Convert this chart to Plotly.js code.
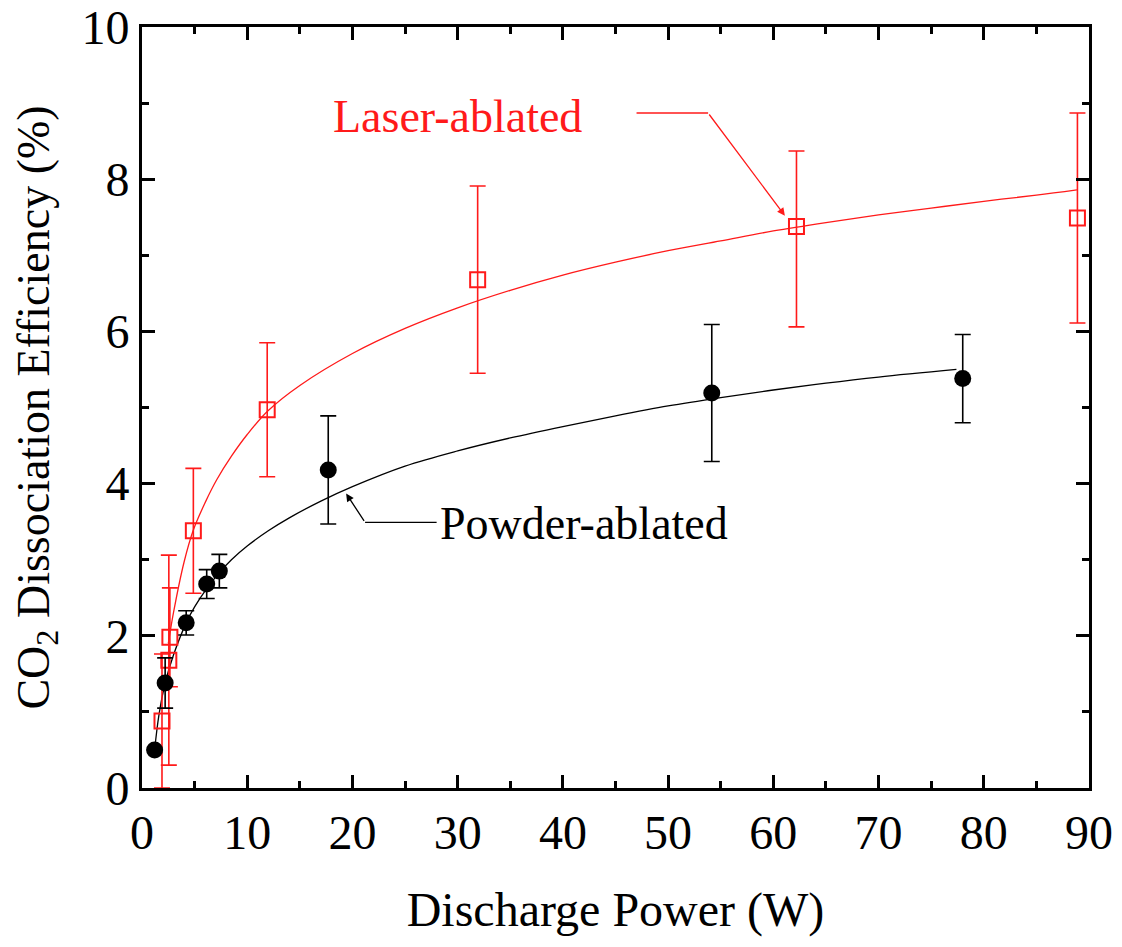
<!DOCTYPE html>
<html>
<head>
<meta charset="utf-8">
<script src="https://cdn.plot.ly/plotly-3.0.1.min.js"></script>
<style>html,body{margin:0;padding:0;background:#fff;}#chart{width:1122px;height:947px;}</style>
</head>
<body>
<div id="chart"></div>
<script>
// Powder-ablated (black filled circles)
const powderPower = [1.2, 2.2, 4.2, 6.15, 7.35, 17.7, 54.15, 78.0];
const powderEff   = [0.5, 1.38, 2.17, 2.68, 2.85, 4.18, 5.19, 5.38];
const powderErr   = [0.0, 0.33, 0.16, 0.19, 0.22, 0.71, 0.90, 0.58];

// Laser-ablated (red open squares)
const laserPower = [1.9, 2.55, 2.65, 4.88, 11.9, 31.9, 62.2, 88.9];
const laserEff   = [0.88, 1.68, 1.98, 3.38, 4.97, 6.68, 7.38, 7.49];
const laserErrPlus  = [0.88, 1.38, 0.65, 0.82, 0.88, 1.23, 0.99, 1.38];
const laserErrMinus = [0.88, 1.38, 0.65, 0.82, 0.88, 1.23, 1.32, 1.38];

// Fit curves
const powderFitX = [1.2, 1.6, 2.2, 3, 4.2, 5, 6.15, 7.35, 8.5, 10, 12, 14, 17, 20, 25, 30, 35, 40, 45, 50, 55, 60, 65, 70, 77.4];
const powderFitY = [0.5, 0.95, 1.38, 1.75, 2.17, 2.38, 2.62, 2.83, 3.0, 3.18, 3.38, 3.55, 3.77, 3.96, 4.23, 4.43, 4.6, 4.75, 4.89, 5.02, 5.13, 5.23, 5.32, 5.4, 5.5];
const laserFitX = [2.5, 3, 4, 4.88, 6, 7.1, 8.5, 10, 12, 15, 20, 25, 30, 35, 40, 45, 50, 55, 60, 65, 70, 75, 80, 85, 88.85];
const laserFitY = [1.9, 2.31, 2.97, 3.39, 3.75, 4.05, 4.36, 4.645, 4.96, 5.29, 5.71, 6.04, 6.31, 6.54, 6.74, 6.91, 7.06, 7.19, 7.32, 7.43, 7.53, 7.62, 7.71, 7.79, 7.86];

// Tick values
const xTicks = [0, 10, 20, 30, 40, 50, 60, 70, 80, 90];
const yTicks = [0, 2, 4, 6, 8, 10];

const FONT = 'Liberation Serif, Times New Roman, serif';
const RED = '#ff1a1a';

const traces = [
  {x: laserFitX, y: laserFitY, mode: 'lines', line: {color: RED, width: 1.3, shape: 'spline', smoothing: 1}, hoverinfo: 'skip', showlegend: false},
  {x: powderFitX, y: powderFitY, mode: 'lines', line: {color: '#000', width: 1.3, shape: 'spline', smoothing: 1}, hoverinfo: 'skip', showlegend: false},
  {x: laserPower, y: laserEff, mode: 'markers', showlegend: false,
   marker: {symbol: 'square-open', size: 15, color: RED, line: {width: 2, color: RED}},
   error_y: {type: 'data', symmetric: false, array: laserErrPlus, arrayminus: laserErrMinus, color: RED, thickness: 1.6, width: 8}},
  {x: powderPower, y: powderEff, mode: 'markers', showlegend: false,
   marker: {symbol: 'circle', size: 17, color: '#000'},
   error_y: {type: 'data', array: powderErr, color: '#000', thickness: 1.6, width: 8}}
];

const axisCommon = {
  showgrid: false, zeroline: false, showline: true, mirror: 'allticks',
  linecolor: '#000', linewidth: 3, ticks: 'inside', ticklen: 13, tickwidth: 3, tickcolor: '#000',
  tickfont: {family: FONT, size: 48, color: '#000'},
  minor: {ticks: 'inside', ticklen: 7, tickwidth: 3, tickcolor: '#000'}
};

const layout = {
  width: 1122, height: 947,
  margin: {l: 142, r: 33, t: 27, b: 159},
  paper_bgcolor: '#fff', plot_bgcolor: '#fff',
  font: {family: FONT, color: '#000'},
  xaxis: Object.assign({}, axisCommon, {
    range: [0, 90], tickvals: xTicks, ticktext: xTicks.map(String),
    minor: Object.assign({}, axisCommon.minor, {dtick: 5, tick0: 0}),
    title: {text: 'Discharge Power (W)', font: {family: FONT, size: 48, color: '#000'}, standoff: 35}
  }),
  yaxis: Object.assign({}, axisCommon, {
    range: [0, 10], tickvals: yTicks, ticktext: yTicks.map(String),
    minor: Object.assign({}, axisCommon.minor, {dtick: 1, tick0: 0}),
    title: {text: 'CO<sub>2</sub> Dissociation Efficiency (%)', font: {family: FONT, size: 46, color: '#000'}, standoff: 18}
  }),
  shapes: [
    {type: 'line', xref: 'x', yref: 'y', x0: 47.0, y0: 8.87, x1: 53.8, y1: 8.87, line: {color: RED, width: 1.3}},
    {type: 'line', xref: 'x', yref: 'y', x0: 21.2, y0: 3.49, x1: 28.0, y1: 3.49, line: {color: '#000', width: 1.3}}
  ],
  annotations: [
    {x: 30.0, y: 8.82, xref: 'x', yref: 'y', text: 'Laser-ablated', showarrow: false,
     font: {family: FONT, size: 46, color: RED}},
    {x: 42.0, y: 3.47, xref: 'x', yref: 'y', text: 'Powder-ablated', showarrow: false,
     font: {family: FONT, size: 46, color: '#000'}},
    {x: 61.1, y: 7.52, ax: 53.8, ay: 8.87, xref: 'x', yref: 'y', axref: 'x', ayref: 'y', text: '',
     showarrow: true, arrowhead: 2, arrowsize: 1.2, arrowwidth: 1.3, arrowcolor: RED},
    {x: 19.4, y: 3.87, ax: 21.2, ay: 3.49, xref: 'x', yref: 'y', axref: 'x', ayref: 'y', text: '',
     showarrow: true, arrowhead: 2, arrowsize: 1.2, arrowwidth: 1.3, arrowcolor: '#000'}
  ]
};

Plotly.newPlot('chart', traces, layout, {displayModeBar: false, staticPlot: true});
</script>
</body>
</html>
